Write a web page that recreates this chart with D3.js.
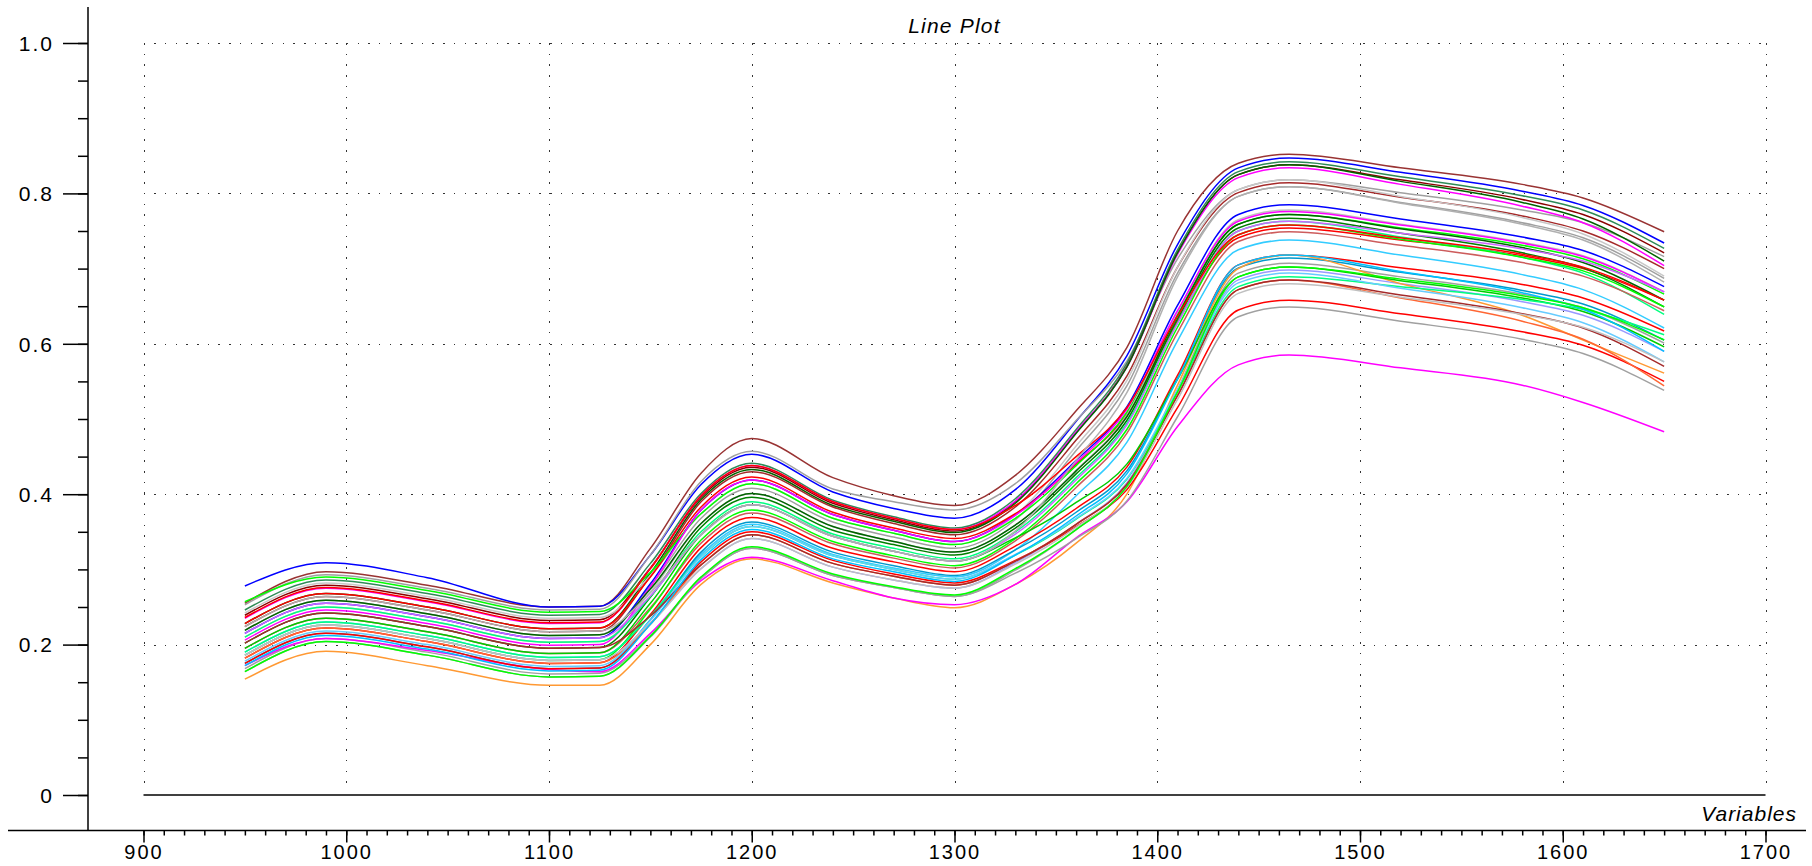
<!DOCTYPE html>
<html>
<head>
<meta charset="utf-8">
<script src="https://cdn.jsdelivr.net/npm/d3@7"></script>
<style>
  body { margin: 0; background: #fff; }
  text { font-family: "Liberation Sans", Arial, sans-serif; fill: #000; }
</style>
</head>
<body>
<svg id="chart" width="1812" height="866"></svg>
<script>
var wavelengths = [950, 990, 1040, 1100, 1125, 1150, 1175, 1200, 1240, 1270, 1300,
                   1330, 1360, 1385, 1410, 1440, 1465, 1520, 1580, 1610, 1650];

/** Axis ticks and labels */
var xTickValues = [900, 1000, 1100, 1200, 1300, 1400, 1500, 1600, 1700];
var yTickValues = [0, 0.2, 0.4, 0.6, 0.8, 1.0];
var yTickLabels = ['0', '0.2', '0.4', '0.6', '0.8', '1.0'];

/** One array per spectrum, values read at the wavelengths above */
var s01 = [.255,.297,.279,.250,.251,.328,.428,.474,.422,.398,.385,.425,.511,.595,.750,.840,.852,.834,.812,.794,.749];
var s02 = [.278,.309,.289,.250,.251,.319,.413,.453,.403,.381,.368,.406,.497,.584,.732,.834,.847,.828,.803,.784,.734];
var s03 = [.253,.293,.275,.246,.247,.319,.417,.457,.407,.390,.379,.414,.498,.577,.713,.805,.818,.801,.778,.761,.716];
var s04 = [.246,.286,.268,.239,.240,.308,.401,.441,.392,.370,.355,.394,.486,.574,.725,.829,.842,.822,.797,.778,.727];
var s05 = [.239,.279,.261,.232,.233,.302,.396,.436,.388,.366,.351,.390,.482,.570,.721,.825,.838,.818,.792,.772,.721];
var s06 = [.235,.275,.257,.228,.229,.301,.398,.438,.390,.368,.353,.391,.483,.569,.719,.821,.834,.812,.783,.761,.704];
var s07 = [.228,.268,.250,.221,.222,.295,.393,.433,.385,.364,.349,.388,.481,.569,.721,.825,.838,.816,.788,.766,.710];
var s08 = [.224,.264,.246,.217,.218,.291,.390,.430,.383,.361,.346,.383,.472,.557,.702,.801,.814,.795,.770,.750,.700];
var s09 = [.219,.259,.241,.212,.213,.278,.368,.408,.363,.343,.328,.366,.458,.544,.694,.796,.809,.788,.761,.741,.687];
var s10 = [.242,.282,.264,.235,.236,.292,.374,.414,.368,.348,.333,.372,.464,.551,.702,.805,.818,.796,.768,.746,.690];
var s11 = [.215,.255,.237,.208,.209,.281,.379,.419,.373,.352,.337,.373,.445,.516,.651,.772,.785,.766,.742,.724,.676];
var s12 = [.228,.268,.250,.221,.222,.290,.383,.423,.376,.355,.341,.374,.440,.506,.630,.741,.754,.738,.717,.700,.658];
var s13 = [.257,.290,.272,.243,.244,.296,.374,.414,.368,.348,.333,.368,.438,.509,.640,.759,.772,.754,.731,.713,.666];
var s14 = [.210,.250,.232,.203,.204,.270,.361,.401,.357,.337,.323,.359,.432,.505,.642,.765,.778,.759,.735,.717,.669];
var s15 = [.206,.246,.228,.199,.200,.277,.379,.419,.373,.352,.337,.372,.442,.513,.644,.763,.776,.758,.734,.716,.669];
var s16 = [.202,.242,.224,.195,.196,.263,.356,.396,.352,.333,.319,.355,.427,.498,.633,.754,.767,.747,.721,.701,.649];
var s17 = [.210,.250,.232,.203,.204,.264,.350,.390,.347,.328,.314,.350,.422,.494,.628,.750,.763,.742,.715,.694,.639];
var s18 = [.195,.235,.217,.188,.189,.249,.335,.375,.334,.315,.302,.338,.409,.481,.615,.736,.749,.731,.708,.690,.644];
var s19 = [.190,.230,.212,.183,.184,.239,.320,.360,.320,.302,.290,.326,.398,.469,.604,.725,.738,.718,.692,.672,.621];
var s20 = [.186,.226,.208,.179,.180,.247,.339,.379,.337,.318,.305,.341,.414,.486,.622,.745,.758,.739,.715,.697,.649];
var s21 = [.182,.222,.204,.175,.176,.240,.329,.369,.328,.310,.297,.331,.381,.436,.558,.705,.718,.701,.679,.661,.617];
var s22 = [.186,.226,.208,.179,.180,.228,.301,.341,.303,.286,.275,.309,.360,.415,.537,.685,.698,.680,.656,.638,.590];
var s23 = [.175,.215,.197,.168,.169,.233,.323,.363,.323,.305,.292,.326,.376,.431,.554,.701,.714,.695,.671,.653,.605];
var s24 = [.168,.208,.190,.161,.162,.212,.288,.328,.292,.276,.264,.299,.353,.410,.539,.694,.707,.689,.666,.648,.601];
var s25 = [.154,.191,.172,.146,.146,.200,.280,.314,.282,.262,.249,.280,.335,.400,.545,.700,.718,.680,.638,.605,.561];
var s26 = [.172,.208,.192,.167,.164,.215,.285,.316,.285,.262,.253,.280,.342,.390,.490,.572,.585,.568,.545,.522,.483];
var s27 = [.175,.215,.197,.168,.169,.227,.310,.350,.312,.294,.282,.312,.357,.406,.515,.645,.658,.640,.616,.598,.550];
var s28 = [.164,.204,.186,.157,.158,.210,.288,.328,.292,.276,.264,.295,.341,.391,.503,.636,.649,.630,.606,.587,.538];
var s29 = [.182,.222,.204,.175,.176,.228,.306,.346,.308,.291,.279,.311,.360,.413,.531,.672,.685,.661,.630,.606,.544];
var s30 = [.195,.235,.217,.188,.189,.255,.346,.386,.344,.324,.311,.342,.389,.440,.553,.689,.702,.684,.661,.643,.596];
var s31 = [.190,.230,.212,.183,.184,.238,.317,.357,.318,.300,.287,.319,.367,.420,.536,.676,.689,.676,.659,.646,.612];
var s32 = [.178,.218,.200,.171,.172,.232,.317,.357,.318,.300,.287,.320,.368,.421,.539,.681,.694,.674,.648,.628,.576];
var s33 = [.202,.242,.224,.195,.196,.238,.306,.346,.308,.291,.279,.311,.360,.413,.531,.672,.685,.665,.640,.621,.570];
var s34 = [.219,.259,.241,.212,.213,.274,.361,.401,.357,.337,.323,.359,.431,.503,.637,.759,.772,.753,.728,.708,.658];
var s35 = [.215,.255,.237,.208,.209,.265,.346,.386,.344,.324,.311,.347,.419,.492,.627,.750,.763,.747,.726,.710,.669];
var s36 = [.186,.226,.208,.179,.180,.228,.301,.341,.303,.286,.275,.307,.356,.409,.526,.667,.680,.662,.639,.622,.576];
var s37 = [.172,.212,.194,.165,.166,.227,.313,.353,.314,.297,.284,.319,.371,.427,.553,.705,.718,.696,.668,.646,.590];
var s38 = [.236,.276,.258,.229,.230,.301,.398,.438,.390,.368,.353,.385,.450,.515,.637,.745,.758,.741,.719,.702,.658];
var s39 = [.224,.264,.246,.217,.218,.269,.346,.386,.344,.324,.311,.351,.445,.535,.689,.796,.809,.787,.759,.738,.682];
var s40 = [.164,.204,.186,.157,.158,.211,.290,.330,.294,.277,.266,.301,.353,.410,.536,.689,.702,.686,.664,.648,.605];

var spectra = [s01, s02, s03, s04, s05, s06, s07, s08, s09, s10,
               s11, s12, s13, s14, s15, s16, s17, s18, s19, s20,
               s21, s22, s23, s24, s25, s26, s27, s28, s29, s30,
               s31, s32, s33, s34, s35, s36, s37, s38, s39, s40];

/** Line colour of each spectrum, same order as above */
var lineColors = ['#993333', '#0000ff', '#a0a0a0', '#2e8b57', '#8b0000', '#ff00ff', '#006400', '#a52a2a', '#a0a0a0', '#c8c8c8',
                  '#0000ff', '#ff0000', '#00ff00', '#c0c0c0', '#ff00ff', '#008000', '#00ff7f', '#cd5c5c', '#33ccff', '#00ff00',
                  '#ff0000', '#9999ff', '#0099cc', '#a0a0a0', '#ff9933', '#ff00ff', '#ff0000', '#a0a0a0', '#ff6633', '#00cc00',
                  '#00ff80', '#66ccff', '#a52a2a', '#006400', '#cc66ff', '#c0c0c0', '#00bfff', '#ff0000', '#b0b0b0', '#00ff00'];

var svg = d3.select('#chart');

/** Scales */
var xScale = d3.scaleLinear().domain([900, 1700]).range([143.5, 1765.5]);
var yScale = d3.scaleLinear().domain([0, 1]).range([795, 43]);

svg.append('rect').attr('width', 1812).attr('height', 866).attr('fill', '#fff');

// dotted grid
var grid = svg.append('g').attr('stroke', '#333').attr('stroke-width', 1.5)
    .attr('stroke-dasharray', '1.5,9.2').attr('shape-rendering', 'crispEdges');

grid.selectAll('line.h')
    .data(yTickValues.filter(function (d) { return d > 0; }))
    .enter().append('line')
    .attr('class', 'h')
    .attr('x1', xScale(900)).attr('x2', xScale(1700))
    .attr('y1', function (d) { return Math.round(yScale(d)) + 0.5; })
    .attr('y2', function (d) { return Math.round(yScale(d)) + 0.5; });

grid.selectAll('line.v')
    .data(xTickValues)
    .enter().append('line')
    .attr('class', 'v')
    .attr('x1', function (d) { return Math.round(xScale(d)) + 0.5; })
    .attr('x2', function (d) { return Math.round(xScale(d)) + 0.5; })
    .attr('y1', yScale(1)).attr('y2', yScale(0) - 4);

// zero line
svg.append('line')
    .attr('x1', xScale(900)).attr('x2', xScale(1700))
    .attr('y1', yScale(0)).attr('y2', yScale(0))
    .attr('stroke', '#000').attr('stroke-width', 1.3);

// spectra
var line = d3.line()
    .x(function (d, i) { return xScale(wavelengths[i]); })
    .y(function (d) { return yScale(d); })
    .curve(d3.curveMonotoneX);

svg.append('g').selectAll('path')
    .data(spectra)
    .enter().append('path')
    .attr('d', line)
    .attr('fill', 'none')
    .attr('stroke', function (d, i) { return lineColors[i]; })
    .attr('stroke-width', 1.5);

// y axis
var yAxisX = 88;
svg.append('line')
    .attr('x1', yAxisX).attr('x2', yAxisX).attr('y1', 7).attr('y2', 831)
    .attr('stroke', '#000').attr('stroke-width', 1.5);

var yMinor = svg.append('g').attr('transform', 'translate(' + yAxisX + ',0)')
    .call(d3.axisLeft(yScale).tickValues(d3.range(0, 1.001, 0.05)).tickSize(10).tickFormat(''));
yMinor.select('.domain').remove();

var yAxis = svg.append('g').attr('transform', 'translate(' + yAxisX + ',0)')
    .call(d3.axisLeft(yScale).tickValues(yTickValues).tickSize(25).tickPadding(9)
        .tickFormat(function (d, i) { return yTickLabels[i]; }));
yAxis.select('.domain').remove();

// x axis
var xAxisY = 830.5;
svg.append('line')
    .attr('x1', 8).attr('x2', 1806).attr('y1', xAxisY).attr('y2', xAxisY)
    .attr('stroke', '#000').attr('stroke-width', 1.5);

var xMinor = svg.append('g').attr('transform', 'translate(0,' + xAxisY + ')')
    .call(d3.axisBottom(xScale).tickValues(d3.range(900, 1701, 10)).tickSize(5).tickFormat(''));
xMinor.select('.domain').remove();

var xAxis = svg.append('g').attr('transform', 'translate(0,' + xAxisY + ')')
    .call(d3.axisBottom(xScale).tickValues(xTickValues).tickSize(12).tickFormat(d3.format('d')));
xAxis.select('.domain').remove();

svg.selectAll('.tick line').attr('stroke', '#000').attr('stroke-width', 1.5);

yAxis.selectAll('text')
    .attr('font-size', 21).attr('letter-spacing', '2px')
    .attr('dy', '0.35em')
    .style('font-family', '"Liberation Sans", Arial, sans-serif').attr('fill', '#000');

xAxis.selectAll('text')
    .attr('font-size', 20).attr('letter-spacing', '2px')
    .attr('y', 28.5).attr('dy', 0)
    .style('font-family', '"Liberation Sans", Arial, sans-serif').attr('fill', '#000');

// titles
svg.append('text')
    .attr('x', (xScale(900) + xScale(1700)) / 2).attr('y', 33)
    .attr('text-anchor', 'middle')
    .attr('font-size', 21).attr('font-style', 'italic').attr('letter-spacing', '1.2px')
    .text('Line Plot');

svg.append('text')
    .attr('x', 1797).attr('y', 821)
    .attr('text-anchor', 'end')
    .attr('font-size', 21).attr('font-style', 'italic').attr('letter-spacing', '1px')
    .text('Variables');
</script>
</body>
</html>
